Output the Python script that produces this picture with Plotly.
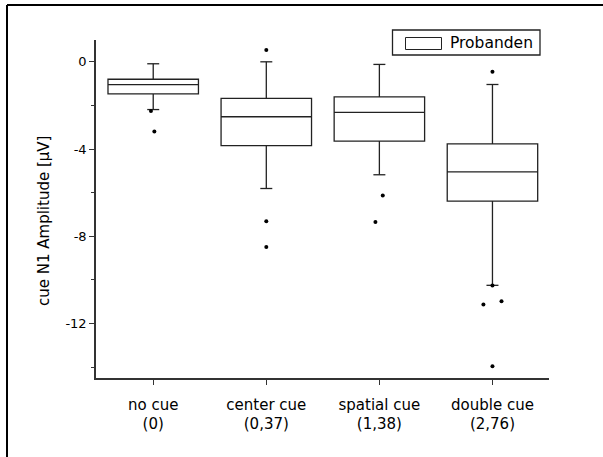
import plotly.graph_objects as go

# Box statistics per condition (cue N1 amplitude, µV)
categories = ["no cue<br>(0)", "center cue<br>(0,37)", "spatial cue<br>(1,38)", "double cue<br>(2,76)"]
positions = [1, 2, 3, 4]
q1 = [-1.47, -3.84, -3.64, -6.39]
median = [-1.05, -2.52, -2.32, -5.05]
q3 = [-0.80, -1.68, -1.61, -3.76]
lower_whisker = [-2.19, -5.81, -5.18, -10.25]
upper_whisker = [-0.09, 0.0, -0.12, -1.04]

# Outliers: group index, value, small horizontal jitter (category units)
outlier_group = [0, 0, 1, 1, 1, 2, 2, 3, 3, 3, 3, 3]
outlier_value = [-2.26, -3.20, 0.54, -7.31, -8.49, -6.13, -7.35, -0.46, -10.26, -11.13, -10.98, -13.96]
outlier_jitter = [-0.02, 0.01, 0.0, 0.0, 0.0, 0.03, -0.035, 0.0, 0.0, -0.08, 0.08, 0.0]

y_ticks = [0, -4, -8, -12]

FONT = "DejaVu Sans"
INK = "#222222"
W, H = 603, 457
ML, MR, MT, MB = 96, 54, 40, 79
PW, PH = W - ML - MR, H - MT - MB


def px_x(p):
    return (p - ML) / PW


def px_y(p):
    return (H - MB - p) / PH


fig = go.Figure()

fig.add_trace(go.Box(
    x=positions, q1=q1, median=median, q3=q3,
    lowerfence=lower_whisker, upperfence=upper_whisker,
    width=0.8, fillcolor="white", boxpoints=False,
    line=dict(color=INK, width=1.3), whiskerwidth=0,
    name="Probanden", showlegend=False, hoverinfo="skip",
))

# whisker end caps
cap_half = 0.053
cap_x, cap_y = [], []
for p, lo, hi in zip(positions, lower_whisker, upper_whisker):
    for v in (lo, hi):
        cap_x += [p - cap_half, p + cap_half, None]
        cap_y += [v, v, None]
fig.add_trace(go.Scatter(x=cap_x, y=cap_y, mode="lines",
                         line=dict(color=INK, width=1.3),
                         showlegend=False, hoverinfo="skip"))

fig.add_trace(go.Scatter(
    x=[positions[g] + j for g, j in zip(outlier_group, outlier_jitter)],
    y=outlier_value, mode="markers",
    marker=dict(color="black", size=4),
    showlegend=False, hoverinfo="skip",
))

shapes = [
    # outer frame (top and left edges)
    dict(type="line", xref="paper", yref="paper", x0=px_x(7), x1=px_x(640), y0=px_y(5), y1=px_y(5),
         line=dict(color="black", width=2)),
    dict(type="line", xref="paper", yref="paper", x0=px_x(7), x1=px_x(7), y0=px_y(5), y1=px_y(500),
         line=dict(color="black", width=2)),
    # legend box and swatch
    dict(type="rect", xref="paper", yref="paper", x0=px_x(392.5), x1=px_x(540), y0=px_y(55), y1=px_y(30),
         line=dict(color=INK, width=1.3), fillcolor="white"),
    dict(type="rect", xref="paper", yref="paper", x0=px_x(405.5), x1=px_x(441.5), y0=px_y(49.5), y1=px_y(37.5),
         line=dict(color=INK, width=1), fillcolor="white"),
]

annotations = [
    dict(text="Probanden", xref="paper", yref="paper", x=px_x(448), y=px_y(43),
         xanchor="left", yanchor="middle", showarrow=False, font=dict(family=FONT, size=15.5, color="black")),
    dict(text="cue N1 Amplitude [µV]", xref="paper", yref="paper", x=px_x(44), y=px_y(221),
         xanchor="center", yanchor="middle", textangle=-90, showarrow=False,
         font=dict(family=FONT, size=15, color="black")),
]

fig.update_layout(
    width=W, height=H,
    margin=dict(l=ML, r=MR, t=MT, b=MB),
    paper_bgcolor="white", plot_bgcolor="white",
    font=dict(family=FONT, color="black"),
    shapes=shapes, annotations=annotations,
    showlegend=False,
)

fig.update_xaxes(
    range=[0.494, 4.5], tickvals=positions, ticktext=categories,
    showline=True, linecolor="#333333", linewidth=1.5,
    ticks="outside", ticklen=5, tickcolor="#333333", tickwidth=1.3,
    showgrid=False, zeroline=False, tickfont=dict(size=15, family=FONT),
    ticklabelstandoff=7,
)
fig.update_yaxes(
    range=[-14.5, 1.0], tickvals=y_ticks, ticktext=[str(v) for v in y_ticks],
    showline=True, linecolor="#333333", linewidth=1.5,
    ticks="outside", ticklen=5, tickcolor="#333333", tickwidth=1.3,
    minor=dict(tickvals=[-2, -6, -10, -14], ticks="outside", ticklen=3, tickcolor="#333333", tickwidth=1.3),
    showgrid=False, zeroline=False, tickfont=dict(size=13, family=FONT),
)

fig.write_html("out.html")
